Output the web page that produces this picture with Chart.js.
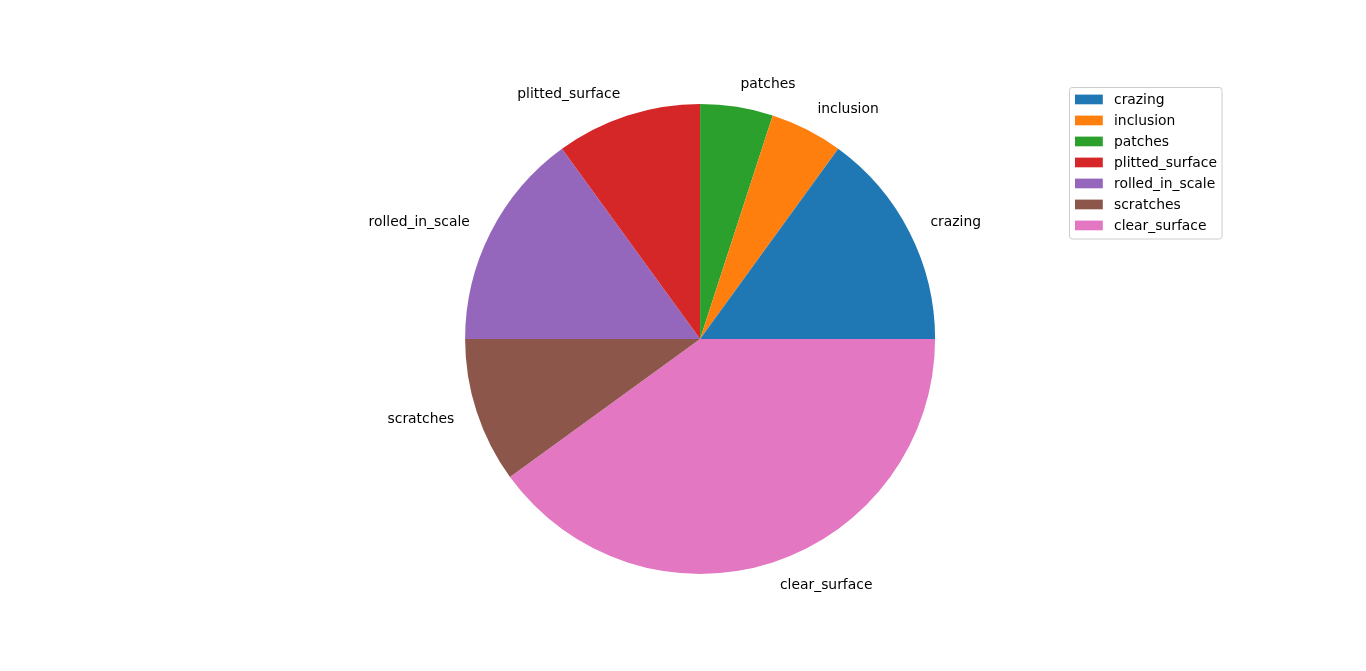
<!DOCTYPE html>
<html>
<head>
<meta charset="utf-8">
<script src="https://cdn.jsdelivr.net/npm/chart.js@4/dist/chart.umd.min.js"></script>
<style>
html,body{margin:0;padding:0;background:#fff;}
#wrap{width:1366px;height:671px;position:relative;}
</style>
</head>
<body>
<div id="wrap"><canvas id="c" width="1366" height="671"></canvas></div>
<script>
const categories = ["crazing", "inclusion", "patches", "plitted_surface", "rolled_in_scale", "scratches", "clear_surface"];
const values = [15, 5, 5, 10, 15, 10, 40];
const colors = ["#1f77b4", "#ff7f0e", "#2ca02c", "#d62728", "#9467bd", "#8c564b", "#e377c2"];

// Chart.js draws clockwise; matplotlib counter-clockwise from 3 o'clock -> reverse order
const revLabels = categories.slice().reverse();
const revValues = values.slice().reverse();
const revColors = colors.slice().reverse();

const FONT = '13.89px "DejaVu Sans"';
const TEXT_DY = 1;

const sliceLabels = {
  id: 'sliceLabels',
  afterDatasetsDraw(chart) {
    const ctx = chart.ctx;
    const meta = chart.getDatasetMeta(0);
    ctx.save();
    ctx.font = FONT;
    ctx.fillStyle = '#000';
    ctx.textBaseline = 'middle';
    meta.data.forEach((arc, i) => {
      const mid = (arc.startAngle + arc.endAngle) / 2;
      const r = arc.outerRadius * 1.1;
      const x = arc.x + r * Math.cos(mid);
      const y = arc.y + r * Math.sin(mid);
      ctx.textAlign = Math.cos(mid) > 0 ? 'left' : 'right';
      ctx.fillText(chart.data.labels[i], x, y + TEXT_DY);
    });
    ctx.restore();
  }
};

const mplLegend = {
  id: 'mplLegend',
  afterDraw(chart) {
    const ctx = chart.ctx;
    ctx.save();
    const x0 = 1069.5, y0 = 87.5, w = 152.5, h = 151.5, rad = 2.8;
    ctx.beginPath();
    ctx.roundRect(x0, y0, w, h, rad);
    ctx.fillStyle = 'rgba(255,255,255,0.8)';
    ctx.fill();
    ctx.strokeStyle = '#cccccc';
    ctx.lineWidth = 1;
    ctx.stroke();
    ctx.font = FONT;
    ctx.textBaseline = 'middle';
    ctx.textAlign = 'left';
    categories.forEach((name, i) => {
      const cy = 99.5 + i * 21;
      ctx.fillStyle = colors[i];
      ctx.fillRect(1075, cy - 4.9, 27.8, 9.7);
      ctx.fillStyle = '#000';
      ctx.fillText(name, 1114, cy + TEXT_DY);
    });
    ctx.restore();
  }
};

new Chart(document.getElementById('c'), {
  type: 'pie',
  data: {
    labels: revLabels,
    datasets: [{
      data: revValues,
      backgroundColor: revColors,
      borderWidth: 0,
      hoverOffset: 0
    }]
  },
  options: {
    responsive: false,
    animation: false,
    rotation: 90,
    layout: { padding: { left: 465.1, right: 430.9, top: 103.9, bottom: 97.1 } },
    plugins: {
      legend: { display: false },
      tooltip: { enabled: false }
    },
    events: []
  },
  plugins: [sliceLabels, mplLegend]
});
</script>
</body>
</html>
